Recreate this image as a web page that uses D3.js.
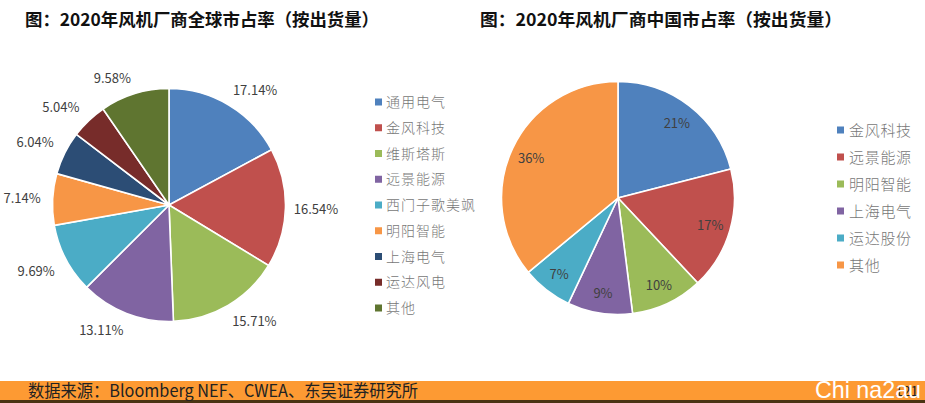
<!DOCTYPE html>
<html><head><meta charset="utf-8">
<script src="https://cdn.jsdelivr.net/npm/d3@7"></script>
<style>html,body{margin:0;padding:0;background:#fff}svg{display:block}text{font-family:"Noto Sans CJK SC","Liberation Sans",sans-serif}</style>
</head><body><svg id="c" width="925" height="403"></svg>
<script>
const globalNames = ["通用电气","金风科技","维斯塔斯","远景能源","西门子歌美飒","明阳智能","上海电气","运达风电","其他"];
const globalValues = [17.14,16.54,15.71,13.11,9.69,7.14,6.04,5.04,9.58];
const globalColors = ["#4f81bd","#c0504d","#9bbb59","#8064a2","#4bacc6","#f79646","#2c4d75","#772c2a","#5f7530"];
const chinaNames = ["金风科技","远景能源","明阳智能","上海电气","运达股份","其他"];
const chinaValues = [21,17,10,9,7,36];
const chinaColors = ["#4f81bd","#c0504d","#9bbb59","#8064a2","#4bacc6","#f79646"];
const titles = ["图：2020年风机厂商全球市占率（按出货量）","图：2020年风机厂商中国市占率（按出货量）"];
const source = "数据来源：Bloomberg NEF、CWEA、东吴证券研究所";
const watermark = "Chi na2au";
const pageNo = "121";

const svg = d3.select("#c");
const clamp = v => Math.max(-1, Math.min(1, v));
function pie(cfg){
  const g = svg.append("g").attr("transform",`translate(${cfg.cx},${cfg.cy})`);
  const arcs = d3.pie().sort(null)(cfg.values);
  const arc = d3.arc().innerRadius(0).outerRadius(cfg.r);
  g.selectAll("path").data(arcs).join("path").attr("d",arc)
    .attr("fill",(d,i)=>cfg.colors[i]).attr("stroke","#fff").attr("stroke-width",1.6);
  // label box sits against a ring around the pie (half box sizes hw, hh)
  const pos = d => {
    const a = (d.startAngle+d.endAngle)/2, s = Math.sin(a), c = Math.cos(a);
    return [cfg.lr*s + cfg.hw*clamp(3*s), -(cfg.lr*c + cfg.hh*clamp(3*c))];
  };
  g.selectAll("text").data(arcs).join("text")
    .attr("transform",d=>`translate(${pos(d)})`)
    .attr("text-anchor","middle").attr("dominant-baseline","central")
    .attr("font-size",13).attr("fill","#404040").text(d=>cfg.fmt(d.value));
  const lg = svg.append("g").selectAll("g").data(cfg.names).join("g")
    .attr("transform",(d,i)=>`translate(${cfg.lx},${cfg.ly+i*cfg.ls})`);
  lg.append("rect").attr("x",0).attr("y",-3.5).attr("width",7).attr("height",7).attr("fill",(d,i)=>cfg.colors[i]);
  lg.append("text").attr("x",cfg.tx).attr("y",-1).attr("dominant-baseline","central")
    .attr("font-size",cfg.fs).attr("letter-spacing",cfg.sp).attr("font-weight",300).attr("fill","#777").text(d=>d);
}
pie({cx:169,cy:205,r:116.5,lr:125,hw:22,hh:8,values:globalValues,colors:globalColors,names:globalNames,
  fmt:v=>v.toFixed(2)+"%",lx:375,ly:102,ls:25.75,tx:11,fs:14,sp:1});
pie({cx:618,cy:198,r:116.5,lr:96,hw:0,hh:0,values:chinaValues,colors:chinaColors,names:chinaNames,
  fmt:v=>v+"%",lx:837,ly:130,ls:27,tx:12,fs:15,sp:0.7});

svg.selectAll("text.title").data(titles).join("text").attr("class","title")
  .attr("x",(d,i)=>i?480:25).attr("y",26).attr("font-size",17.5).attr("font-weight",700).attr("fill","#111")
  .attr("textLength",(d,i)=>i?362:354).attr("lengthAdjust","spacingAndGlyphs").text(d=>d);

svg.append("rect").attr("x",0).attr("y",381).attr("width",925).attr("height",19).attr("fill","#fd9a33");
svg.append("rect").attr("x",0).attr("y",400).attr("width",925).attr("height",3).attr("fill","#4a3413");
svg.append("text").attr("x",28).attr("y",397).attr("font-size",17).attr("fill","#222")
  .attr("textLength",390).attr("lengthAdjust","spacingAndGlyphs").text(source);
svg.append("text").attr("x",895).attr("y",396).attr("font-size",14).attr("fill","#222").text(pageNo);
svg.append("text").attr("x",815).attr("y",398).attr("font-size",24).attr("fill","#fff")
  .attr("textLength",106).attr("lengthAdjust","spacingAndGlyphs")
  .style("font-family","'Liberation Sans',sans-serif").text(watermark);
</script></body></html>
